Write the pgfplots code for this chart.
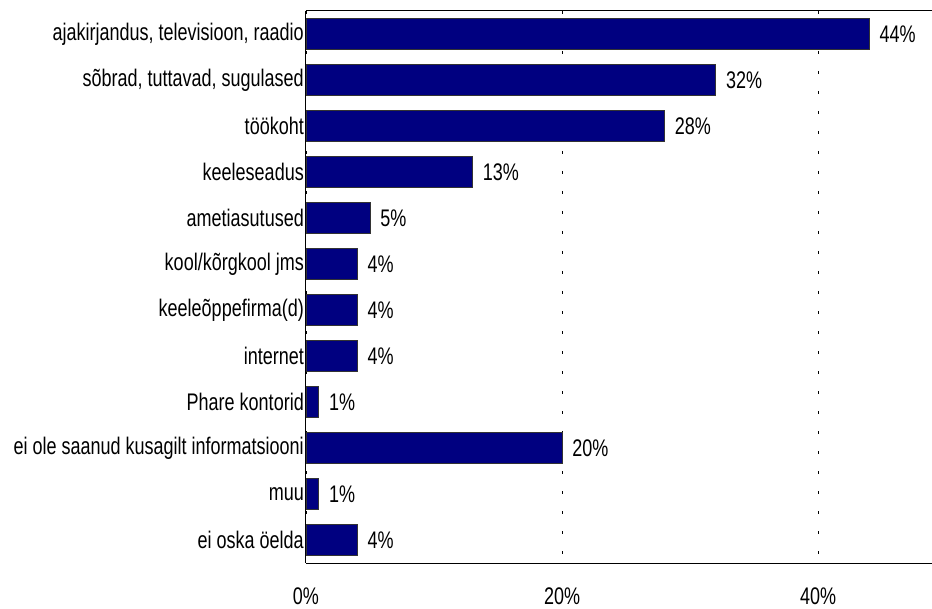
\documentclass[border=0pt]{standalone}
\usepackage{fontspec}
\setmainfont{Liberation Sans}[FakeStretch=0.75]
\usepackage{pgfplots}
\pgfplotsset{compat=1.18}
\usetikzlibrary{calc}
\definecolor{barnavy}{RGB}{0,0,128}
\begin{document}
\fontsize{24pt}{28pt}\selectfont
\begin{tikzpicture}
\begin{axis}[
  scale only axis,
  width=626pt, height=552pt,
  xmin=0, xmax=48.9,
  ymin=-0.5, ymax=11.5,
  y dir=reverse,
  axis x line*=bottom,
  axis y line*=left,
  axis line style={black, line width=1pt},
  xtick={0,20,40},
  xticklabels={0\%,20\%,40\%},
  xticklabel style={yshift=-17pt},
  ytick={0,1,2,3,4,5,6,7,8,9,10,11},
  yticklabels={{ajakirjandus, televisioon, raadio},{sõbrad, tuttavad, sugulased},{töökoht},{keeleseadus},{ametiasutused},{kool/kõrgkool jms},{keeleõppefirma(d)},{internet},{Phare kontorid},{ei ole saanud kusagilt informatsiooni},{muu},{ei oska öelda}},
  yticklabel style={inner sep=1pt, xshift=-1pt},
  major tick length=0pt,
  xmajorgrids,
  grid style={black, line width=0.8pt, dash pattern=on 3pt off 17pt},
  tick label style={font=\fontsize{24pt}{28pt}\selectfont},
  xbar,
  bar width=31pt,
  point meta=explicit symbolic,
  nodes near coords,
  nodes near coords style={anchor=west, xshift=2pt, font=\fontsize{24pt}{28pt}\selectfont},
]
\addplot[fill=barnavy, draw=black!80, line width=0.8pt] coordinates {
  (44,0) [44\%]
  (32,1) [32\%]
  (28,2) [28\%]
  (13,3) [13\%]
  (5,4) [5\%]
  (4,5) [4\%]
  (4,6) [4\%]
  (4,7) [4\%]
  (1,8) [1\%]
  (20,9) [20\%]
  (1,10) [1\%]
  (4,11) [4\%]
};
\draw[black, line width=1pt] (rel axis cs:0,1) -- (rel axis cs:1,1);
\coordinate (ll) at (rel axis cs:0,0);
\coordinate (ur) at (rel axis cs:1,1);
\end{axis}
\pgfresetboundingbox
\path ($(ll)+(-306pt,-46pt)$) rectangle ($(ur)+(0pt,11pt)$);
\end{tikzpicture}
\end{document}
